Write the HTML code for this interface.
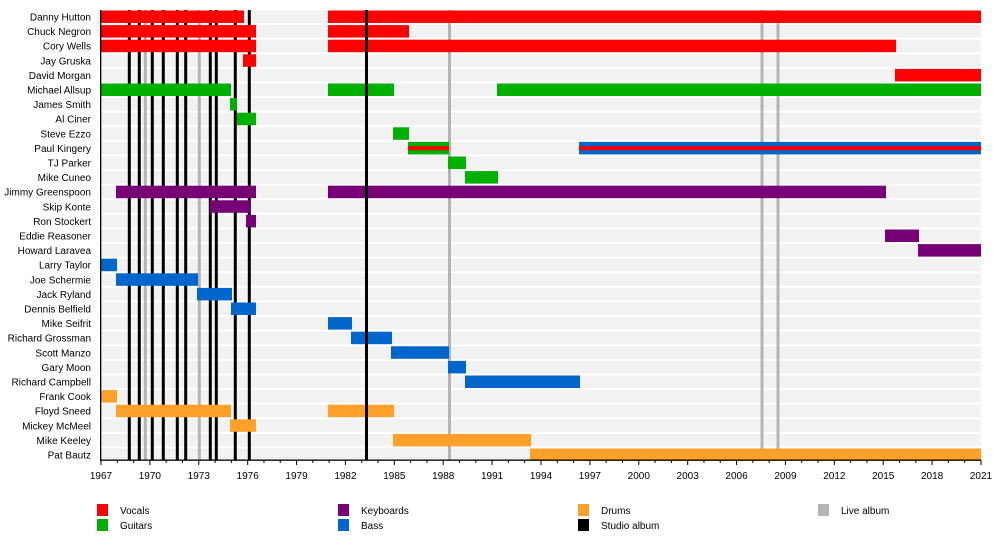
<!DOCTYPE html>
<html><head><meta charset="utf-8"><style>
body{margin:0;background:#fff}
svg{display:block;font-family:"Liberation Sans",sans-serif}
</style></head><body>
<svg id="s" width="1000" height="550" xmlns="http://www.w3.org/2000/svg"></svg>
<script>
const s=document.getElementById('s');
const NS="http://www.w3.org/2000/svg";
function el(t,a,txt){const e=document.createElementNS(NS,t);for(const k in a)e.setAttribute(k,a[k]);if(txt!==undefined)e.textContent=txt;s.appendChild(e);return e;}
const R='#ff0000',G='#00b000',P='#770077',B='#0066cc',O='#ffa02a',GR='#b4b4b4';
const rows=[
["Danny Hutton",[[101,244,R],[328,981,R]]],
["Chuck Negron",[[101,256,R],[328,409,R]]],
["Cory Wells",[[101,256,R],[328,896,R]]],
["Jay Gruska",[[243,256,R]]],
["David Morgan",[[895,981,R]]],
["Michael Allsup",[[101,231,G],[328,394,G],[497,981,G]]],
["James Smith",[[230,237,G]]],
["Al Ciner",[[237,256,G]]],
["Steve Ezzo",[[393,409,G]]],
["Paul Kingery",[[408,449,G,R],[579,981,B,R]]],
["TJ Parker",[[448,466,G]]],
["Mike Cuneo",[[465,498,G]]],
["Jimmy Greenspoon",[[116,256,P],[328,886,P]]],
["Skip Konte",[[210,250,P]]],
["Ron Stockert",[[246,256,P]]],
["Eddie Reasoner",[[885,919,P]]],
["Howard Laravea",[[918,981,P]]],
["Larry Taylor",[[101,117,B]]],
["Joe Schermie",[[116,198,B]]],
["Jack Ryland",[[197,232,B]]],
["Dennis Belfield",[[231,256,B]]],
["Mike Seifrit",[[328,352,B]]],
["Richard Grossman",[[351,392,B]]],
["Scott Manzo",[[391,449,B]]],
["Gary Moon",[[448,466,B]]],
["Richard Campbell",[[465,580,B]]],
["Frank Cook",[[101,117,O]]],
["Floyd Sneed",[[116,231,O],[328,394,O]]],
["Mickey McMeel",[[230,256,O]]],
["Mike Keeley",[[393,531,O]]],
["Pat Bautz",[[530,981,O]]]
];
const top0=10.5,pitch=14.6,h=12.5;
rows.forEach((r,i)=>{const y=top0+pitch*i;el('rect',{x:101,y:y,width:880,height:h,fill:'#f2f2f2'});});
[145.3,199.3,449.5,762,778].forEach(x=>el('rect',{x:x-1.5,y:10,width:3,height:450,fill:GR}));
[129.3,139.3,152.3,163.3,177.3,185.7,210.3,216.3,235.3,249.3].forEach(x=>el('rect',{x:x-1.5,y:10,width:3,height:450,fill:'#000'}));
rows.forEach((r,i)=>{const y=top0+pitch*i;
 el('text',{x:91,y:y+10,'text-anchor':'end','font-size':'10',fill:'#000'},r[0]);
 r[1].forEach(b=>{el('rect',{x:b[0],y:y,width:b[1]-b[0],height:h,fill:b[2]});
  if(b[3])el('rect',{x:b[0],y:y+4.3,width:b[1]-b[0],height:4,fill:b[3]});});
});
el('rect',{x:365,y:10,width:3,height:450,fill:'#000'});
el('rect',{x:100,y:10,width:1.3,height:451,fill:'#000'});
el('rect',{x:100,y:459.5,width:881,height:1.3,fill:'#000'});
const px=880/54;
for(let yr=1967;yr<=2021;yr++){const x=101+(yr-1967)*px;const maj=(yr-1967)%3==0;
 el('rect',{x:x-0.5,y:460,width:1,height:maj?5:3,fill:'#000'});
 if(maj)el('text',{x:x,y:479,'text-anchor':'middle','font-size':'10',fill:'#000'},yr);}
const leg=[[97,504,R,'Vocals'],[97,519,G,'Guitars'],[338,504,P,'Keyboards'],[338,519,B,'Bass'],[578,504,O,'Drums'],[578,519,'#000','Studio album'],[818,504,GR,'Live album']];
leg.forEach(l=>{el('rect',{x:l[0],y:l[1],width:11,height:12,fill:l[2]});el('text',{x:l[0]+23,y:l[1]+10,'font-size':'10',fill:'#000'},l[3]);});
</script>
</body></html>
